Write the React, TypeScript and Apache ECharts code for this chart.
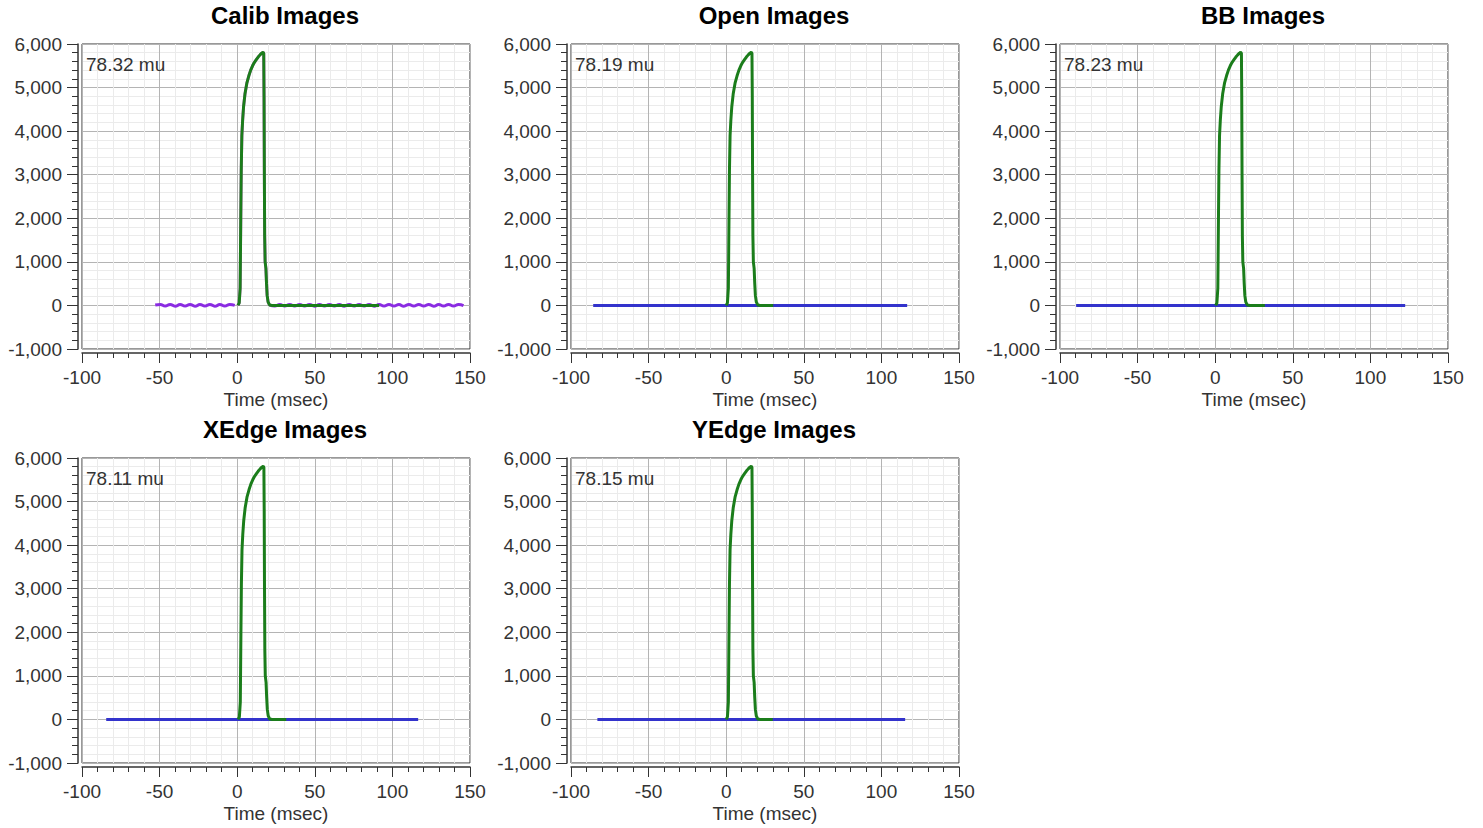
import React, { useEffect, useRef } from "react";
import * as echarts from "echarts";

// ---- data ----
const chartTitles = ["Calib Images", "Open Images", "BB Images", "XEdge Images", "YEdge Images"];
const muLabels = ["78.32 mu", "78.19 mu", "78.23 mu", "78.11 mu", "78.15 mu"];
const xTicks = { min: -100, max: 150, interval: 50 };
const yTicks = { min: -1000, max: 6000, interval: 1000 };

// pulse profile (time msec relative to trigger, value)
const pulseT = [0, 0.8, 1.4, 1.8, 2.1, 2.5, 3.0, 3.6, 4.5, 5.7, 7.0, 8.2, 9.4, 10.6, 11.8, 13.0, 14.2, 15.3, 16.1, 16.6, 16.8, 17.0, 17.2, 17.5, 18.0, 18.4, 18.8, 19.4, 20.3, 22.0];
const pulseV = [0, 60, 400, 2000, 3100, 3900, 4250, 4560, 4850, 5100, 5270, 5400, 5500, 5580, 5640, 5700, 5750, 5790, 5810, 5790, 4800, 3000, 1600, 1000, 850, 500, 230, 80, 10, 0];

// per chart: pulse shift, end of green trace, baseline start/end
const pulseShift = [0.5, 0, 0.3, 0.6, 0];
const greenEnd = [91.5, 30.3, 32, 31.6, 30];
const baseStart = [-52.8, -85.7, -89.6, -84.4, -83];
const baseEnd = [145.6, 116.6, 122.4, 116.6, 115.3];

// calib purple wiggle values (sampled every half period)
const wiggleStep = 3.2;
const calibLeftWiggle = [10, 22, -15, 22, -18, 20, -15, 22, -18, 20, -15, 22, -18, 20, -15, 20, 0];
const calibRightStart = 21;
const calibRightWiggle = [5, -12, 20, -15, 22, -12, 20, -15, 22, -18, 20, -12, 22, -15, 20, -18, 22, -15, 20, -12, 22, -18, 20, -15, 22, -12, 20, -18, 22, -15, 20, -12, 22, -18, 20, -15, 22, -12, 20, -5];

const FONT = "'Liberation Sans', Arial, sans-serif";

const grids = [
  { left: 82, top: 44 },
  { left: 571, top: 44 },
  { left: 1060, top: 44 },
  { left: 82, top: 458 },
  { left: 571, top: 458 },
];
const PW = 388;
const PH = 305;

export default function App() {
  const ref = useRef<HTMLDivElement>(null);
  useEffect(() => {
    if (!ref.current) return;
    const chart = echarts.init(ref.current, undefined, { renderer: "svg" });

    const grid = grids.map((g) => ({
      left: g.left,
      top: g.top,
      width: PW,
      height: PH,
      show: true,
      borderColor: "#333",
      borderWidth: 1,
      backgroundColor: "#fff",
    }));

    const xAxis = grids.map((_, i) => ({
      gridIndex: i,
      type: "value",
      min: xTicks.min,
      max: xTicks.max,
      interval: xTicks.interval,
      offset: 4,
      axisLine: { show: true, onZero: false, lineStyle: { color: "#333", width: 1.5 } },
      axisTick: { show: true, length: 10, lineStyle: { color: "#333" } },
      minorTick: { show: true, splitNumber: 5, length: 5, lineStyle: { color: "#333" } },
      splitLine: { show: true, lineStyle: { color: "#b4b4b4" } },
      minorSplitLine: { show: true, lineStyle: { color: "#ebebeb" } },
      axisLabel: { fontSize: 19, fontFamily: FONT, color: "#333", margin: 15 },
      name: "Time (msec)",
      nameLocation: "middle",
      nameGap: 37,
      nameTextStyle: { fontSize: 19, fontFamily: FONT, color: "#333" },
    }));

    const yAxis = grids.map((_, i) => ({
      gridIndex: i,
      type: "value",
      min: yTicks.min,
      max: yTicks.max,
      interval: yTicks.interval,
      offset: 4,
      axisLine: { show: true, onZero: false, lineStyle: { color: "#333", width: 1.5 } },
      axisTick: { show: true, length: 11, lineStyle: { color: "#333" } },
      minorTick: { show: true, splitNumber: 5, length: 6, lineStyle: { color: "#333" } },
      splitLine: { show: true, lineStyle: { color: "#b4b4b4" } },
      minorSplitLine: { show: true, lineStyle: { color: "#ebebeb" } },
      axisLabel: {
        fontSize: 19,
        fontFamily: FONT,
        color: "#333",
        margin: 16,
        formatter: (v: number) => v.toLocaleString("en-US"),
      },
    }));

    const pulse = (shift: number) => pulseT.map((t, k) => [t + shift, pulseV[k]]);

    const series: any[] = [];
    grids.forEach((_, i) => {
      const common = { xAxisIndex: i, yAxisIndex: i, type: "line", showSymbol: false, symbol: "none", silent: true };
      if (i === 0) {
        const left = calibLeftWiggle.map((v, k) => [baseStart[0] + k * wiggleStep, v]);
        const right = calibRightWiggle.map((v, k) => [calibRightStart + k * wiggleStep, v]);
        series.push({ ...common, data: left, smooth: 0.5, lineStyle: { color: "#8a2be2", width: 3 } });
        series.push({ ...common, data: right, smooth: 0.5, lineStyle: { color: "#8a2be2", width: 3 } });
        series.push({ ...common, data: pulse(pulseShift[0] - 0.3), lineStyle: { color: "#e060e8", width: 2 } });
        series.push({ ...common, data: pulse(pulseShift[0] + 0.3), lineStyle: { color: "#e060e8", width: 2 } });
      } else {
        series.push({ ...common, data: [[baseStart[i], 0], [baseEnd[i], 0]], lineStyle: { color: "#3333cc", width: 3 } });
      }
      series.push({
        ...common,
        data: [...pulse(pulseShift[i]), [greenEnd[i], 0]],
        lineStyle: { color: "#1b7d1b", width: 3 },
      });
    });

    const graphic: any[] = [];
    grids.forEach((g, i) => {
      graphic.push({
        type: "text",
        x: g.left + PW / 2 + 9,
        y: g.top - 29,
        style: {
          text: chartTitles[i],
          font: `bold 24px ${FONT}`,
          fill: "#000",
          textAlign: "center",
          textVerticalAlign: "middle",
        },
      });
      graphic.push({
        type: "text",
        x: g.left + 4,
        y: g.top + 20,
        z: 100,
        style: {
          text: muLabels[i],
          font: `19px ${FONT}`,
          fill: "#333",
          textAlign: "left",
          textVerticalAlign: "middle",
        },
      });
    });

    chart.setOption({
      animation: false,
      backgroundColor: "#fff",
      grid,
      xAxis,
      yAxis,
      series,
      graphic,
    });
    return () => chart.dispose();
  }, []);
  return <div ref={ref} style={{ position: "absolute", left: 0, top: 0, width: 1483, height: 828 }} />;
}
